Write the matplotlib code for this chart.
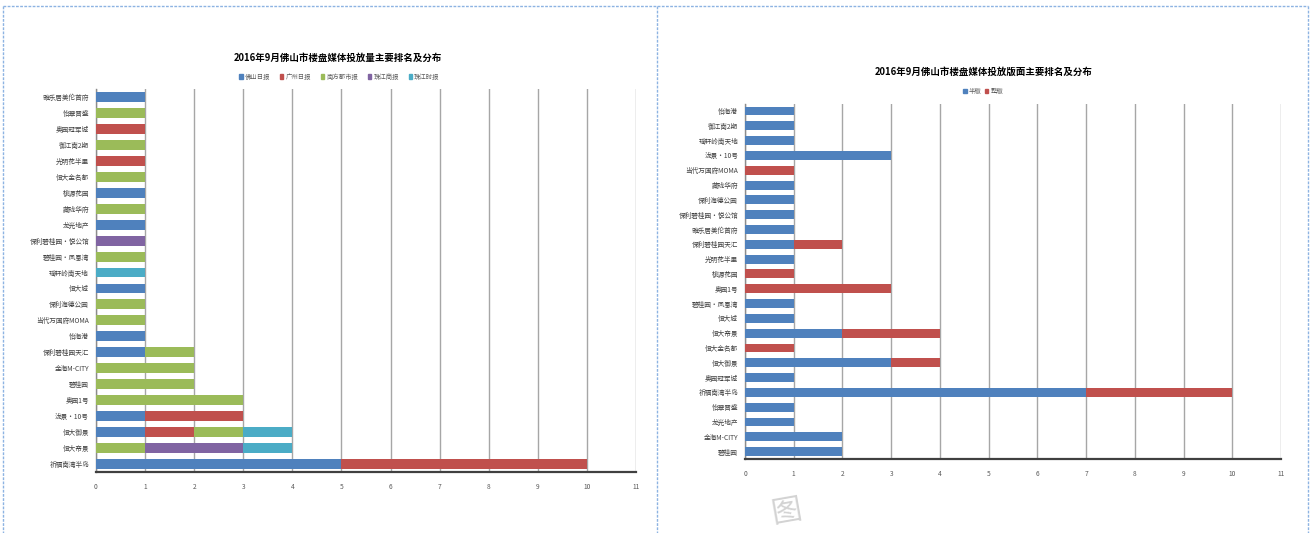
import matplotlib
matplotlib.use("Agg")
import matplotlib.pyplot as plt
from matplotlib.lines import Line2D
from matplotlib.patches import Patch
import numpy as np

plt.rcParams['font.family'] = ['Noto Sans CJK SC', 'DejaVu Sans']

# left chart: volume by newspaper
cats_left = ["雅乐居美伦首府", "怡翠晋盛", "奥园冠军城", "御江南2期", "光明花半里", "恒大金名都",
             "桃源花园", "藏珑华府", "龙光地产", "保利碧桂园・悦公馆", "碧桂园・凤凰湾", "瑶轩岭南天地",
             "恒大城", "保利海德公园", "当代万国府MOMA", "怡海港", "保利碧桂园天汇", "金海M-CITY",
             "碧桂园", "奥园1号", "泷景・10号", "恒大御景", "恒大帝景", "祈福南湾半岛"]
foshan_daily = [1, 0, 0, 0, 0, 0, 1, 0, 1, 0, 0, 0, 1, 0, 0, 1, 1, 0, 0, 0, 1, 1, 0, 5]
guangzhou_daily = [0, 0, 1, 0, 1, 0, 0, 0, 0, 0, 0, 0, 0, 0, 0, 0, 0, 0, 0, 0, 2, 1, 0, 5]
nanfang_metro = [0, 1, 0, 1, 0, 1, 0, 1, 0, 0, 1, 0, 0, 1, 1, 0, 1, 2, 2, 3, 0, 1, 1, 0]
zhujiang_business = [0, 0, 0, 0, 0, 0, 0, 0, 0, 1, 0, 0, 0, 0, 0, 0, 0, 0, 0, 0, 0, 0, 2, 0]
zhujiang_times = [0, 0, 0, 0, 0, 0, 0, 0, 0, 0, 0, 1, 0, 0, 0, 0, 0, 0, 0, 0, 0, 1, 1, 0]
left_names = ["佛山日报", "广州日报", "南方都市报", "珠江商报", "珠江时报"]

# right chart: page size
cats_right = ["怡海港", "御江南2期", "瑶轩岭南天地", "泷景・10号", "当代万国府MOMA", "藏珑华府",
              "保利海德公园", "保利碧桂园・悦公馆", "雅乐居美伦首府", "保利碧桂园天汇", "光明花半里",
              "桃源花园", "奥园1号", "碧桂园・凤凰湾", "恒大城", "恒大帝景", "恒大金名都", "恒大御景",
              "奥园冠军城", "祈福南湾半岛", "怡翠晋盛", "龙光地产", "金海M-CITY", "碧桂园"]
half_page = [1, 1, 1, 3, 0, 1, 1, 1, 1, 1, 1, 0, 0, 1, 1, 2, 0, 3, 1, 7, 1, 1, 2, 2]
full_page = [0, 0, 0, 0, 1, 0, 0, 0, 0, 1, 0, 1, 3, 0, 0, 2, 1, 1, 0, 3, 0, 0, 0, 0]
right_names = ["半版", "整版"]

colors = ["#4F81BD", "#C0504D", "#9BBB59", "#8064A2", "#4BACC6"]
xticks = list(range(0, 12))

fig = plt.figure(figsize=(13.11, 5.33), dpi=100)


def stacked(ax, cats, series, bar_h):
    y = np.arange(len(cats))
    left = np.zeros(len(cats))
    for vals, c in zip(series, colors):
        vals = np.array(vals, dtype=float)
        ax.barh(y, vals, left=left, height=bar_h, color=c, zorder=3,
                edgecolor="none")
        left += vals
    ax.set_yticks(y)
    ax.set_yticklabels(cats, fontsize=4.8, color="#404040")
    ax.set_ylim(len(cats) - 0.5, -0.5)
    ax.set_xlim(0, 11)
    ax.set_xticks(xticks)
    ax.set_xticklabels([str(t) for t in xticks], fontsize=4.8, color="#595959")
    ax.tick_params(axis="y", length=0, pad=5)
    ax.tick_params(axis="x", length=0, pad=8)
    ax.grid(axis="x", color="#A6A6A6", linewidth=1.0, zorder=0)
    for s in ["top", "right"]:
        ax.spines[s].set_visible(False)
    ax.spines["left"].set_color("#8C8C8C")
    ax.spines["left"].set_linewidth(1.0)
    ax.spines["bottom"].set_color("#404040")
    ax.spines["bottom"].set_linewidth(1.6)


ax1 = fig.add_axes([0.0732, 0.1145, 0.4119, 0.7185])
stacked(ax1, cats_left, [foshan_daily, guangzhou_daily, nanfang_metro,
                         zhujiang_business, zhujiang_times], 0.62)

ax2 = fig.add_axes([0.5683, 0.1388, 0.4088, 0.6668])
stacked(ax2, cats_right, [half_page, full_page], 0.6)

fig.text(0.258, 0.891, "2016年9月佛山市楼盘媒体投放量主要排名及分布", ha="center",
         va="center", fontsize=6.8, fontweight="bold")
fig.text(0.750, 0.865, "2016年9月佛山市楼盘媒体投放版面主要排名及分布", ha="center",
         va="center", fontsize=6.8, fontweight="bold")

h1 = [Patch(color=c) for c in colors]
fig.legend(h1, left_names, loc="center", bbox_to_anchor=(0.259, 0.856), ncol=5,
           frameon=False, fontsize=4.6, handlelength=0.5, handleheight=0.6,
           handletextpad=0.3, columnspacing=1.6, labelcolor="#595959")
h2 = [Patch(color=c) for c in colors[:2]]
fig.legend(h2, right_names, loc="center", bbox_to_anchor=(0.750, 0.829), ncol=2,
           frameon=False, fontsize=4.6, handlelength=0.5, handleheight=0.6,
           handletextpad=0.3, columnspacing=0.6, labelcolor="#595959")

# dashed panel borders
bc = "#8DB3E2"
W, H = 1311, 533
for xs, ys in [([3, 1308], [6, 6]), ([3, 3], [6, 533]),
               ([657, 657], [6, 533]), ([1308, 1308], [6, 533])]:
    fig.add_artist(Line2D([x / W for x in xs], [1 - y / H for y in ys],
                          color=bc, linewidth=1.0, linestyle=(0, (2, 1))))

# faint watermark
fig.text(0.6, 0.04, "图", fontsize=22, color="#D3D3D3", ha="center", va="center",
         rotation=10)

fig.savefig("out.png", dpi=100)
